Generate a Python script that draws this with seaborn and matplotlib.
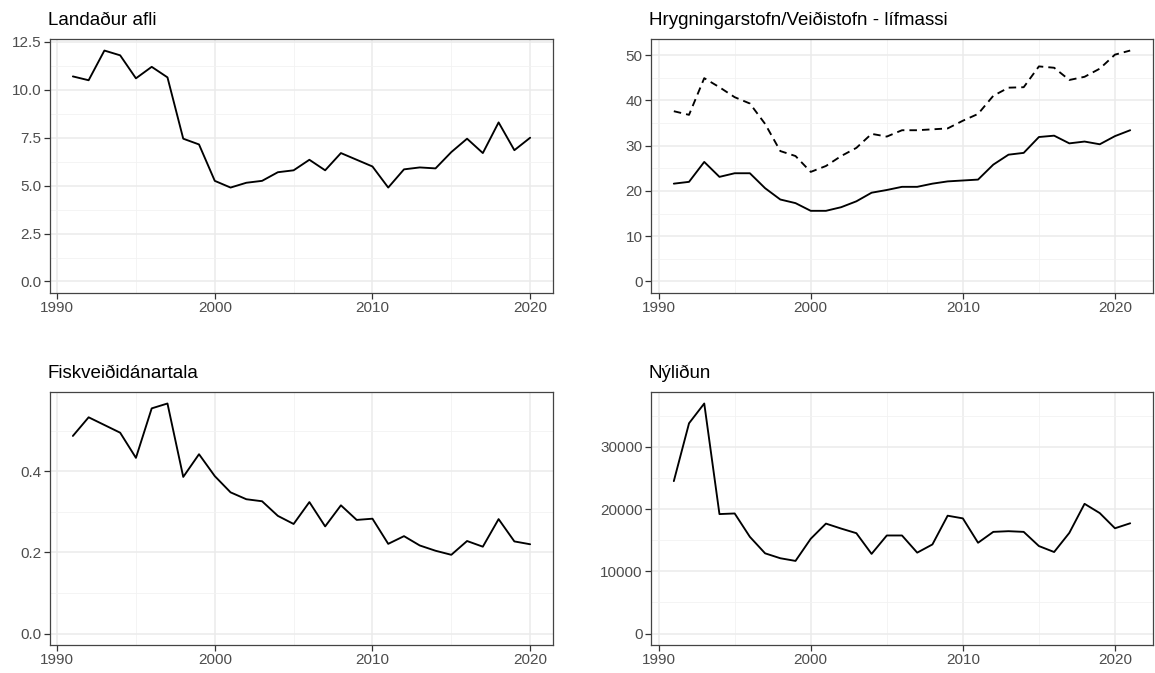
import numpy as np
import pandas as pd
import matplotlib
matplotlib.use('Agg')
import matplotlib.pyplot as plt
from matplotlib.ticker import MultipleLocator, FormatStrFormatter
import seaborn as sns

# --- data ---
ar_afli = list(range(1991, 2021))
afli = [10.7, 10.5, 12.05, 11.8, 10.6, 11.2, 10.65, 7.45, 7.15, 5.25,
        4.9, 5.15, 5.25, 5.7, 5.8, 6.35, 5.8, 6.7, 6.35, 6.0,
        4.9, 5.85, 5.95, 5.9, 6.75, 7.45, 6.7, 8.3, 6.85, 7.5]

ar_stofn = list(range(1991, 2022))
hrygning = [21.6, 22.0, 26.4, 23.1, 23.9, 23.9, 20.6, 18.1, 17.3, 15.6,
            15.6, 16.4, 17.7, 19.6, 20.2, 20.9, 20.9, 21.6, 22.1, 22.3,
            22.5, 25.8, 28.0, 28.4, 31.9, 32.2, 30.5, 30.9, 30.3, 32.1, 33.4]
veidistofn = [37.6, 36.8, 44.9, 42.9, 40.7, 39.3, 34.8, 28.8, 27.7, 24.2,
              25.5, 27.7, 29.5, 32.6, 32.0, 33.4, 33.4, 33.6, 33.8, 35.5,
              37.0, 41.0, 42.8, 42.9, 47.5, 47.2, 44.5, 45.2, 47.0, 50.1, 51.0]

ar_F = list(range(1991, 2021))
F = [0.487, 0.533, 0.514, 0.495, 0.433, 0.555, 0.567, 0.386, 0.442, 0.388,
     0.348, 0.331, 0.326, 0.290, 0.270, 0.324, 0.264, 0.316, 0.280, 0.283,
     0.221, 0.240, 0.217, 0.204, 0.194, 0.228, 0.214, 0.282, 0.227, 0.220]

ar_nyl = list(range(1991, 2022))
nylidun = [24500, 33800, 36980, 19200, 19300, 15540, 12890, 12100, 11670, 15230,
           17670, 16870, 16130, 12800, 15760, 15760, 13000, 14320, 18940, 18510,
           14590, 16340, 16450, 16340, 14060, 13100, 16180, 20850, 19360, 16920, 17720]

titles = ['Landaður afli', 'Hrygningarstofn/Veiðistofn - lífmassi',
          'Fiskveiðidánartala', 'Nýliðun']

sns.set_theme(style='white')
plt.rcParams['font.family'] = ['Liberation Sans', 'DejaVu Sans']

fig = plt.figure(figsize=(11.55, 6.73), dpi=100)
W, H = 1155, 673
boxes = [(50, 39, 553, 293), (651, 39, 1153, 293),
         (50, 392, 553, 645), (651, 392, 1153, 645)]
axes = [fig.add_axes([l / W, (H - b) / H, (r - l) / W, (b - t) / H]) for l, t, r, b in boxes]

df1 = pd.DataFrame({'ar': ar_afli, 'val': afli})
df2 = pd.DataFrame({'ar': ar_stofn * 2, 'val': hrygning + veidistofn,
                    'teg': ['Hrygningarstofn'] * len(ar_stofn) + ['Veiðistofn'] * len(ar_stofn)})
df3 = pd.DataFrame({'ar': ar_F, 'val': F})
df4 = pd.DataFrame({'ar': ar_nyl, 'val': nylidun})

lw = 1.35
sns.lineplot(data=df1, x='ar', y='val', color='black', lw=lw, ax=axes[0])
sns.lineplot(data=df2, x='ar', y='val', style='teg', color='black', lw=lw,
             dashes={'Hrygningarstofn': '', 'Veiðistofn': (4, 2.7)}, legend=False, ax=axes[1])
sns.lineplot(data=df3, x='ar', y='val', color='black', lw=lw, ax=axes[2])
sns.lineplot(data=df4, x='ar', y='val', color='black', lw=lw, ax=axes[3])

ystep = [(2.5, 1.25, '%.1f'), (10, 5, '%d'), (0.2, 0.1, '%.1f'), (10000, 5000, '%d')]
yvals = [afli, veidistofn, F, nylidun]
xvals = [ar_afli, ar_stofn, ar_F, ar_nyl]

for ax, title, (maj, mnr, fmt), yv, xv in zip(axes, titles, ystep, yvals, xvals):
    ymax = max(yv)
    ax.set_ylim(-0.05 * ymax, 1.05 * ymax)
    xr = max(xv) - min(xv)
    ax.set_xlim(min(xv) - 0.05 * xr, max(xv) + 0.05 * xr)
    ax.yaxis.set_major_locator(MultipleLocator(maj))
    ax.yaxis.set_minor_locator(MultipleLocator(mnr))
    ax.yaxis.set_major_formatter(FormatStrFormatter(fmt))
    ax.xaxis.set_major_locator(MultipleLocator(10))
    ax.xaxis.set_minor_locator(MultipleLocator(5))
    ax.grid(which='major', color='#EBEBEB', lw=1.1)
    ax.grid(which='minor', color='#F2F2F2', lw=0.6)
    ax.set_axisbelow(True)
    for s in ax.spines.values():
        s.set_color('#444444')
        s.set_linewidth(0.9)
    ax.tick_params(which='major', direction='out', length=4, width=0.9, color='#333333',
                   labelsize=11, labelcolor='#4D4D4D', pad=2, bottom=True, left=True)
    ax.tick_params(which='minor', length=0)
    ax.set_xlabel('')
    ax.set_ylabel('')
    ax.set_title(title, loc='left', fontsize=13.5, pad=10, color='black', x=-0.004)

fig.savefig('out.png', dpi=100)
